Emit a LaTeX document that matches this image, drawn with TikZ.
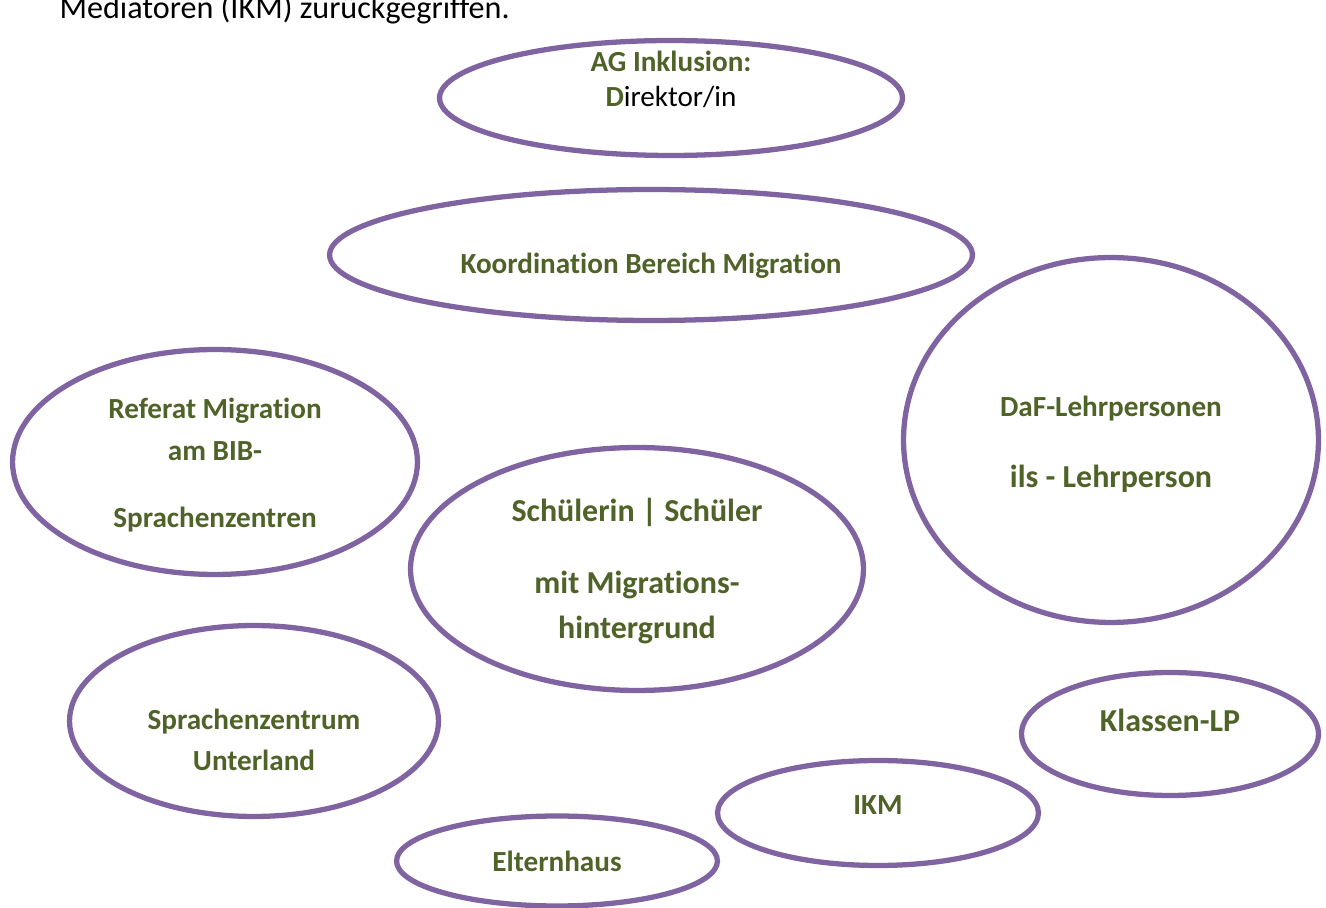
\documentclass[tikz,border=0pt]{standalone}
\usepackage{fontspec}
\setmainfont[Ligatures={NoCommon}]{Carlito}
\usetikzlibrary{shapes.geometric}
\definecolor{ringlila}{HTML}{8064A2}
\definecolor{textgruen}{HTML}{4F6228}
\newcommand{\grossschrift}{\fontsize{18.2}{22}\selectfont}

\begin{document}
\begin{tikzpicture}[x=0.02cm,y=-0.02cm,semithick]
\tikzstyle{ring}=[ellipse,draw=ringlila,line width=3pt,fill=white,inner sep=0pt]
\tikzstyle{rolle}=[text=textgruen,font=\fontsize{16.6}{20}\selectfont\bfseries,align=center,inner sep=0pt]
\tikzstyle{rollegross}=[rolle,font=\grossschrift\bfseries]
\useasboundingbox (0,0) rectangle (1326,908);
\node[anchor=base west,inner sep=0pt,font=\fontsize{18.3}{22}\selectfont] (satz) at (59,19) {Mediatoren (IKM) zurückgegriffen.};
% Ovale
\node[ring,minimum width=9.26cm,minimum height=2.30cm] (agi) at (671,98) {};
\node[ring,minimum width=12.86cm,minimum height=2.62cm] (koord) at (651,255) {};
\node[ring,minimum width=8.10cm,minimum height=4.50cm] (referat) at (215,462) {};
\node[ring,minimum width=8.30cm,minimum height=7.30cm] (daf) at (1111,440) {};
\node[ring,minimum width=9.06cm,minimum height=4.86cm] (schueler) at (637,569) {};
\node[ring,minimum width=7.38cm,minimum height=3.82cm] (szu) at (254,721) {};
\node[ring,minimum width=5.94cm,minimum height=2.46cm] (klp) at (1170,734) {};
\node[ring,minimum width=6.42cm,minimum height=2.10cm] (ikm) at (878,813) {};
\node[ring,minimum width=6.42cm,minimum height=1.80cm] (eltern) at (557,861) {};
% Beschriftungen
\node[rolle] (agi-t) at (671,79) {AG Inklusion:\\D\textcolor{black}{\mdseries irektor/in}};
\node[rolle] (koord-t) at (651,266) {Koordination Bereich Migration};
\node[rolle] (referat-t) at (215,465) {Referat Migration\\[3.8pt]am BIB-\\[18.5pt]Sprachenzentren};
\node[rolle] (daf-t) at (1111,444.5) {DaF-Lehrpersonen\\[20.5pt]\grossschrift ils - Lehrperson};
\node[rollegross] (schueler-t) at (637,571) {Schülerin | Schüler\\[18.8pt]mit Migrations-\\[3.5pt]hintergrund};
\node[rolle] (szu-t) at (254,740) {Sprachenzentrum\\[3.2pt]Unterland};
\node[rollegross] (klp-t) at (1170,720) {Klassen-LP};
\node[rolle] (ikm-t) at (878,805) {IKM};
\node[rolle] (eltern-t) at (557,861) {Elternhaus};
\end{tikzpicture}
\end{document}
